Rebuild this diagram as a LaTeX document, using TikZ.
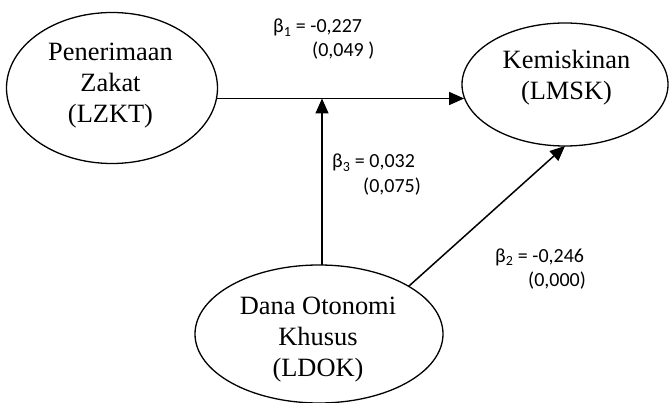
\documentclass[tikz,border=0pt]{standalone}
\usepackage{fontspec}
\setmainfont{Liberation Serif}
\newfontfamily\lblfont{Carlito}
\usetikzlibrary{shapes.geometric,arrows.meta}
\tikzset{
  var/.style={ellipse, draw, line width=1.3pt, inner sep=0pt, outer sep=0pt},
  vartext/.style={align=center, inner sep=0pt, font=\fontsize{26.4}{31}\selectfont},
  lbl/.style={anchor=base west, inner sep=0pt, font=\lblfont\fontsize{20}{24}\selectfont},
  arr/.style={line width=1.5pt, -{Triangle[length=15pt,width=13pt]}}
}
\begin{document}
\begin{tikzpicture}[x=1pt,y=-1pt]
\useasboundingbox (0,0) rectangle (669,403);
% variables
\node[var, minimum width=211pt, minimum height=151pt] (lzkt) at (112,88) {};
\node[vartext] at (110.5,86) {Penerimaan\\Zakat\\(LZKT)};
\node[var, minimum width=206pt, minimum height=123pt] (lmsk) at (565,84.5) {};
\node[vartext] at (566.5,78) {Kemiskinan\\(LMSK)};
\node[var, minimum width=248pt, minimum height=138pt] (ldok) at (319,334) {};
\node[vartext] at (318,340) {Dana Otonomi\\Khusus\\(LDOK)};
% junction on the main path
\coordinate (j) at (322,98.5);
% connectors
\draw[arr] (lzkt.354.5 |- j) -- (lmsk.187.6 |- j);
\draw[arr] (j |- ldok.north) -- (j);
\draw[arr] (ldok.28.9) -- (lmsk.south);
% labels
\node[lbl] (b1) at (273,33) {β\textsubscript{1} = -0,227};
\node[lbl] (s1) at (312,57) {(0,049 )};
\node[lbl] (b3) at (332,168) {β\textsubscript{3} = 0,032};
\node[lbl] (s3) at (363,193) {(0,075)};
\node[lbl] (b2) at (495,262) {β\textsubscript{2} = -0,246};
\node[lbl] (s2) at (528,287) {(0,000)};
\end{tikzpicture}
\end{document}
